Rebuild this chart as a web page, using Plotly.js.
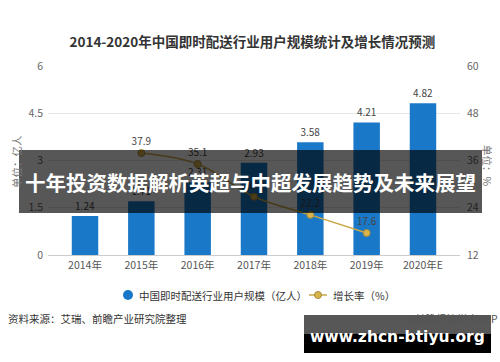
<!DOCTYPE html>
<html>
<head>
<meta charset="utf-8">
<script src="https://cdn.plot.ly/plotly-3.0.1.min.js"></script>
<style>html,body{margin:0;padding:0;background:#fff;}#chart{width:500px;height:362px;}</style>
</head>
<body>
<div id="chart"></div>
<script>
const categories = ["2014年","2015年","2016年","2017年","2018年","2019年","2020年E"];
const users = [1.24, 1.71, 2.31, 2.93, 3.58, 4.21, 4.82];
const growth = [null, 37.9, 35.1, 26.8, 22.2, 17.6, null];
const leftTicks = [0, 1.5, 3, 4.5, 6];
const rightTicks = [12, 24, 36, 48, 60];

const FONT = '"Noto Sans CJK SC", "Noto Sans", sans-serif';
const L = 48, R = 460, T = 66, B = 255;
const px = x => (x - L) / (R - L);
const py = y => (B - y) / (B - T);

const barTrace = {
  type: 'bar', x: categories, y: users, yaxis: 'y',
  marker: {color: '#1a78c8'}, width: 0.47,
  text: users.map(v => v.toFixed(2)), textposition: 'outside',
  textfont: {family: FONT, size: 10, color: '#444'},
  cliponaxis: false, hoverinfo: 'none', showlegend: false
};
const lineTrace = {
  type: 'scatter', x: categories, y: growth, yaxis: 'y2',
  mode: 'lines+markers+text', line: {color: '#c8a848', width: 1.5, shape: 'spline'},
  marker: {color: '#d8b44c', size: 7, line: {color: '#a8893a', width: 1}},
  text: growth.map(v => v == null ? '' : v.toFixed(1)), textposition: 'top center',
  textfont: {family: FONT, size: 10, color: '#444'},
  cliponaxis: false, connectgaps: false, hoverinfo: 'none', showlegend: false
};

const layout = {
  width: 500, height: 362,
  margin: {l: L, r: 500 - R, t: T, b: 362 - B},
  paper_bgcolor: '#fff', plot_bgcolor: '#fff',
  font: {family: FONT, color: '#555'},
  title: {text: '<b>2014-2020年中国即时配送行业用户规模统计及增长情况预测</b>',
    x: 0.496, xref: 'paper', y: 1 - 42/362, yref: 'container', yanchor: 'middle', xanchor: 'center',
    font: {family: FONT, size: 13.5, color: '#333'}},
  xaxis: {type: 'category', range: [-0.657, 6.657], showgrid: false, zeroline: false,
    showline: true, linecolor: '#cccccc', linewidth: 1,
    tickfont: {family: FONT, size: 10.5, color: '#555'}, ticks: '', fixedrange: true},
  yaxis: {range: [0, 6], tickvals: leftTicks, ticktext: leftTicks.map(String),
    showgrid: true, gridcolor: '#e6e6e6', zeroline: false, showline: false,
    tickfont: {family: FONT, size: 10.5, color: '#666'}, ticks: '', ticklabelstandoff: 4},
  yaxis2: {range: [12, 60], tickvals: rightTicks, overlaying: 'y', side: 'right',
    showgrid: false, zeroline: false, showline: false,
    tickfont: {family: FONT, size: 10.5, color: '#666'}, ticks: '', ticklabelstandoff: 6},
  shapes: [
    {type: 'circle', xref: 'paper', yref: 'paper', x0: px(123), x1: px(133), y0: py(300), y1: py(290),
      fillcolor: '#1a78c8', line: {width: 0}},
    {type: 'line', xref: 'paper', yref: 'paper', x0: px(309), x1: px(327), y0: py(295), y1: py(295),
      line: {color: '#c8a848', width: 1.5}},
    {type: 'circle', xref: 'paper', yref: 'paper', x0: px(314.5), x1: px(321.5), y0: py(298.5), y1: py(291.5),
      fillcolor: '#d8b44c', line: {color: '#a8893a', width: 1}},
    {type: 'rect', xref: 'paper', yref: 'paper', layer: 'above', x0: px(19), x1: px(482), y0: py(213), y1: py(150),
      fillcolor: 'rgba(0,0,0,0.66)', line: {width: 0}},
    {type: 'rect', xref: 'paper', yref: 'paper', layer: 'above', x0: px(304), x1: px(491), y0: py(353), y1: py(315),
      fillcolor: 'rgba(0,0,0,0.66)', line: {width: 0}},
    {type: 'rect', xref: 'paper', yref: 'paper', layer: 'above', x0: px(304), x1: px(491), y0: py(353), y1: py(334),
      fillcolor: '#000', line: {width: 0}}
  ],
  annotations: [
    {text: '单位：亿人', xref: 'paper', yref: 'paper', x: px(16), y: py(162), textangle: -90,
      showarrow: false, font: {family: FONT, size: 10.5, color: '#777'}, xanchor: 'center', yanchor: 'middle'},
    {text: '单位：%', xref: 'paper', yref: 'paper', x: px(488), y: py(166), textangle: 90,
      showarrow: false, font: {family: FONT, size: 10.5, color: '#777'}, xanchor: 'center', yanchor: 'middle'},
    {text: '中国即时配送行业用户规模（亿人）', xref: 'paper', yref: 'paper', x: px(137), y: py(295),
      xanchor: 'left', yanchor: 'middle', showarrow: false, font: {family: FONT, size: 10.5, color: '#333'}},
    {text: '增长率（%）', xref: 'paper', yref: 'paper', x: px(331), y: py(295),
      xanchor: 'left', yanchor: 'middle', showarrow: false, font: {family: FONT, size: 10.5, color: '#333'}},
    {text: '资料来源：艾瑞、前瞻产业研究院整理', xref: 'paper', yref: 'paper', x: px(6), y: py(318),
      xanchor: 'left', yanchor: 'middle', showarrow: false, font: {family: FONT, size: 10.5, color: '#333'}},
    {text: '@前瞻经济学人APP', xref: 'paper', yref: 'paper', x: px(500), y: py(318),
      xanchor: 'right', yanchor: 'middle', showarrow: false, font: {family: FONT, size: 10.5, color: '#555'}},
    {text: '<b>十年投资数据解析英超与中超发展趋势及未来展望</b>', xref: 'paper', yref: 'paper', x: px(250), y: py(182),
      xanchor: 'center', yanchor: 'middle', showarrow: false, font: {family: FONT, size: 20.5, color: '#fff'}},
    {text: '<b>www.zhcn-btiyu.org</b>', xref: 'paper', yref: 'paper', x: px(397), y: py(337),
      xanchor: 'center', yanchor: 'middle', showarrow: false, font: {family: '"DejaVu Sans", sans-serif', size: 15.5, color: '#fff'}}
  ]
};

Plotly.newPlot('chart', [barTrace, lineTrace], layout, {staticPlot: true, displayModeBar: false});
</script>
</body>
</html>
